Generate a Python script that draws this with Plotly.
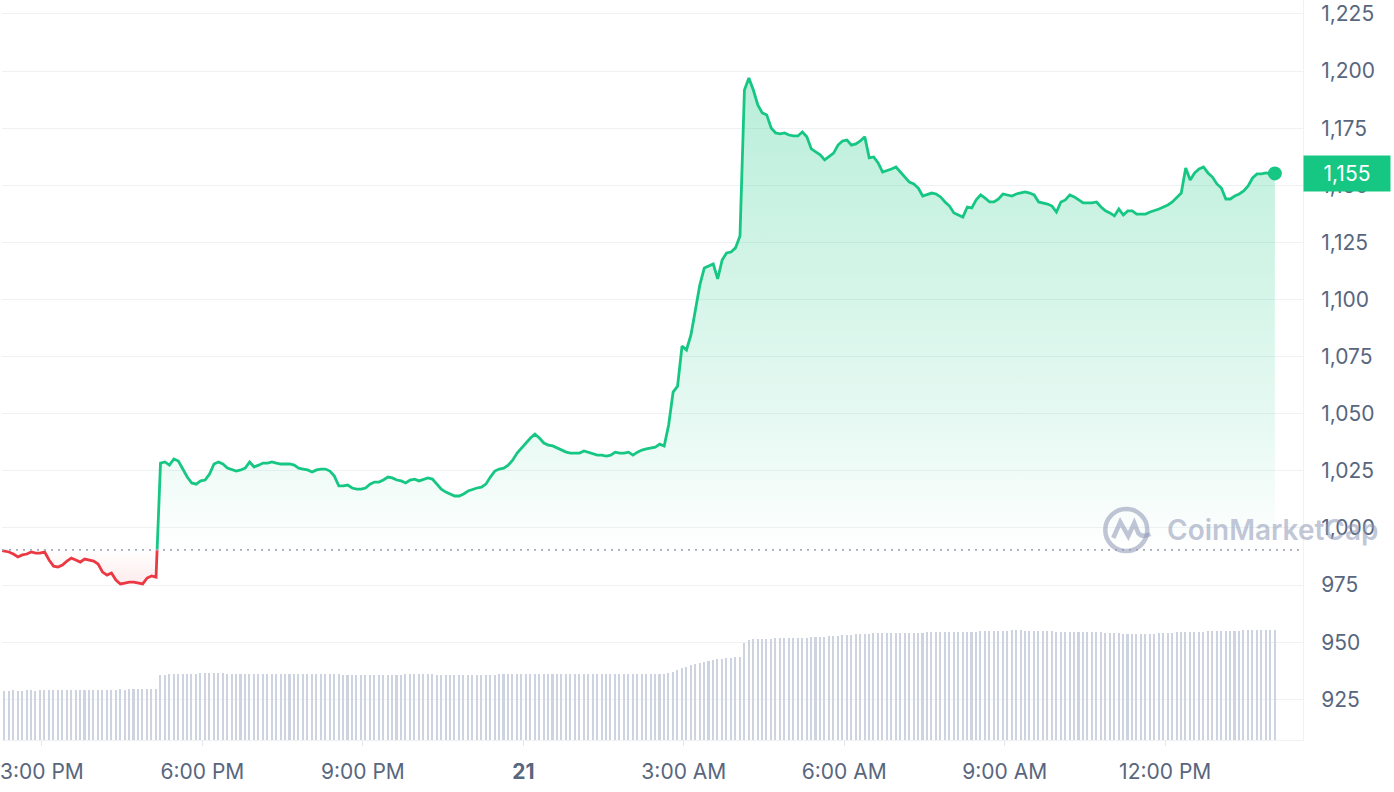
import pandas as pd
import plotly.graph_objects as go

# ---------------- data ----------------
start_time = "2024-05-20 14:03"
interval = "5min"

price = [
    990.8, 990.6, 990.3, 990.1, 989.5, 988.6, 987.3, 988.2, 988.6, 989.5,
    989.0, 989.0, 989.5, 986.0, 983.3, 982.9, 983.8, 985.5, 986.8, 986.0,
    985.1, 986.4, 986.0, 985.5, 984.2, 980.7, 979.4, 980.3, 977.2, 975.5,
    975.9, 976.3, 976.3, 975.9, 975.5, 978.1, 979.0, 978.5, 1028.4, 1028.9,
    1027.5, 1030.2, 1029.3, 1025.8, 1022.3, 1019.7, 1019.2, 1020.6, 1021.0, 1023.6,
    1028.0, 1028.9, 1028.0, 1026.2, 1025.4, 1024.9, 1025.4, 1026.2, 1028.9, 1026.7,
    1027.5, 1028.4, 1028.4, 1028.9, 1028.4, 1028.0, 1028.0, 1028.0, 1027.5, 1026.2,
    1025.8, 1025.4, 1024.5, 1025.4, 1025.8, 1025.8, 1024.9, 1022.7, 1018.4, 1018.4,
    1018.8, 1017.5, 1017.0, 1017.0, 1017.5, 1019.2, 1020.1, 1020.1, 1021.0, 1022.3,
    1021.9, 1021.0, 1020.6, 1019.7, 1021.0, 1021.4, 1020.6, 1021.4, 1021.9, 1021.4,
    1019.2, 1017.0, 1015.7, 1014.9, 1014.0, 1014.0, 1014.9, 1016.2, 1017.0, 1017.5,
    1017.9, 1019.2, 1022.3, 1024.9, 1025.8, 1026.2, 1027.5, 1029.7, 1032.8, 1035.0,
    1037.2, 1039.4, 1041.1, 1039.4, 1037.2, 1036.3, 1035.9, 1035.0, 1034.1, 1033.2,
    1032.8, 1032.8, 1032.8, 1033.7, 1033.2, 1032.4, 1031.9, 1031.9, 1031.5, 1031.9,
    1033.2, 1032.8, 1032.8, 1033.2, 1031.9, 1033.2, 1034.1, 1034.6, 1035.0, 1035.4,
    1036.7, 1035.9, 1045.1, 1059.5, 1062.1, 1079.6, 1077.9, 1084.5, 1095.4, 1106.4,
    1113.8, 1114.7, 1115.6, 1109.0, 1117.3, 1120.4, 1120.8, 1122.6, 1127.8, 1191.7,
    1197.0, 1191.7, 1185.2, 1181.7, 1180.8, 1175.1, 1172.9, 1172.5, 1172.9, 1172.0,
    1171.6, 1171.6, 1173.3, 1171.2, 1165.9, 1164.6, 1163.3, 1161.1, 1162.8, 1164.1,
    1167.6, 1169.4, 1169.8, 1167.6, 1168.1, 1169.4, 1171.2, 1162.0, 1162.4, 1159.8,
    1155.8, 1156.3, 1157.1, 1158.0, 1155.8, 1153.2, 1151.4, 1150.6, 1148.8, 1145.3,
    1145.8, 1146.6, 1146.2, 1144.9, 1142.7, 1140.9, 1137.9, 1137.0, 1136.1, 1140.5,
    1140.1, 1143.6, 1145.8, 1144.4, 1142.7, 1142.7, 1144.0, 1146.2, 1145.8, 1145.3,
    1146.2, 1146.6, 1147.1, 1146.6, 1145.8, 1142.7, 1142.3, 1141.8, 1140.9, 1138.3,
    1142.7, 1143.6, 1145.8, 1144.9, 1143.6, 1142.3, 1142.3, 1142.3, 1142.7, 1140.5,
    1138.8, 1137.9, 1136.6, 1139.6, 1137.0, 1138.8, 1138.8, 1137.4, 1137.4, 1137.4,
    1138.3, 1138.8, 1139.6, 1140.5, 1141.4, 1142.7, 1144.9, 1146.6, 1157.6, 1152.3,
    1155.4, 1157.1, 1158.0, 1155.4, 1153.6, 1150.6, 1148.8, 1144.0, 1144.0, 1145.3,
    1146.2, 1147.5, 1149.7, 1153.2, 1155.0, 1155.0, 1155.4, 1155.0, 1155.2,
]

# volume (millions)
volume = [
    99, 99, 100, 99, 99, 100, 99, 99, 100, 100, 99, 100, 100, 100, 100, 100, 100, 101, 100, 100,
    101, 101, 100, 101, 101, 101, 101, 101, 101, 102, 101, 102, 102, 102, 102, 102, 103, 103,
    131, 131, 132, 132, 132, 132, 133, 133,
    133, 134, 134, 134, 134, 134, 134, 133, 133, 133, 133, 133, 133, 133, 133,
    133, 133, 133, 133, 133, 132, 132, 133, 133, 133, 132, 132, 132, 132, 132, 132, 132, 132, 131, 131,
    131, 131, 131, 131, 131, 131, 131, 131, 131, 131, 131, 131, 132, 132, 132, 132, 132, 132, 132, 131,
    131, 131, 131, 131, 131, 131, 131, 131, 131, 131, 131, 131, 131, 132, 132, 132, 132, 132, 132, 132,
    133, 133, 133, 133, 132, 132, 132, 132, 132, 132, 132, 132, 132, 132, 132, 132, 132, 132, 132, 132,
    132, 132, 132, 132, 132, 132, 132, 132, 132, 133,
    133, 134, 136, 140, 144, 147, 150, 152, 155, 157, 159, 160, 162, 163, 164, 165, 166, 167,
    194, 200, 202, 202, 203, 203, 203, 204, 204, 204, 204, 204,
    204, 205, 205, 206, 206, 207, 207, 208, 209, 209, 210, 211, 211, 212, 212, 213, 213, 214, 214, 214,
    214, 214, 214, 215, 215, 215, 215, 215, 215, 216, 216, 216, 216, 216, 216, 216, 216, 217, 217, 217,
    217, 218, 218, 218, 219, 219, 219, 219, 220, 220, 220, 219, 219, 219, 218, 218, 218, 218, 217, 217,
    217, 217, 217, 217, 217, 217, 216, 216, 216, 215, 215, 214, 214, 213, 213, 213, 212, 212, 212, 213,
    213, 214, 214, 215, 215, 216, 216, 217, 217, 217, 217, 217, 218, 218, 218, 218, 219, 219, 219, 219,
    220, 220, 220, 220, 221, 221, 221, 221,
]

open_price = 990.4
current_label = "1,155"

x_tickvals = ["2024-05-20 15:00", "2024-05-20 18:00", "2024-05-20 21:00", "2024-05-21 00:00",
              "2024-05-21 03:00", "2024-05-21 06:00", "2024-05-21 09:00", "2024-05-21 12:00"]
x_ticktext = ["3:00 PM", "6:00 PM", "9:00 PM", "<b>21</b>", "3:00 AM", "6:00 AM", "9:00 AM", "12:00 PM"]
y_tickvals = [925, 950, 975, 1000, 1025, 1050, 1075, 1100, 1125, 1150, 1175, 1200, 1225]

# ---------------- styling ----------------
GREEN = "#16c784"
RED = "#ea3943"
GRID = "#eff2f5"
TEXT = "#58667e"
FONT = "Inter, 'Noto Sans', sans-serif"

times = list(pd.date_range(start_time, periods=len(price), freq=interval))

# split the series into runs above / below the opening price
segments = []
cur_x, cur_y = [times[0]], [price[0]]
cur_up = price[0] >= open_price
for k in range(1, len(price)):
    up = price[k] >= open_price
    if up != cur_up:
        f = (open_price - price[k - 1]) / (price[k] - price[k - 1])
        tc = times[k - 1] + (times[k] - times[k - 1]) * f
        cur_x.append(tc)
        cur_y.append(open_price)
        segments.append((cur_up, cur_x, cur_y))
        cur_x, cur_y, cur_up = [tc], [open_price], up
    cur_x.append(times[k])
    cur_y.append(price[k])
segments.append((cur_up, cur_x, cur_y))

fig = go.Figure()

# volume bars on hidden overlay axis
fig.add_trace(go.Bar(
    x=times, y=volume, yaxis="y2",
    marker=dict(color="#cdd3df", line=dict(width=0)),
    width=105000, hoverinfo="skip", showlegend=False,
))

pmax, pmin = max(price), min(price)
for up, sx, sy in segments:
    if up:
        grad = dict(type="vertical", start=open_price, stop=pmax,
                    colorscale=[[0, "rgba(22,199,132,0.0)"], [0.25, "rgba(22,199,132,0.10)"],
                                [1, "rgba(22,199,132,0.30)"]])
    else:
        grad = dict(type="vertical", start=open_price, stop=pmin,
                    colorscale=[[0, "rgba(234,57,67,0.0)"], [1, "rgba(234,57,67,0.10)"]])
    fig.add_trace(go.Scatter(
        x=list(sx) + list(sx)[::-1], y=list(sy) + [open_price] * len(sy),
        mode="lines", line=dict(width=0), fill="toself", fillgradient=grad,
        hoverinfo="skip", showlegend=False,
    ))

for up, sx, sy in segments:
    fig.add_trace(go.Scatter(
        x=sx, y=sy, mode="lines",
        line=dict(color=GREEN if up else RED, width=2.8, shape="linear"),
        showlegend=False,
    ))

fig.add_trace(go.Scatter(
    x=[times[-1]], y=[price[-1]], mode="markers",
    marker=dict(color=GREEN, size=14), showlegend=False,
))

# opening price dotted reference line
fig.add_shape(type="line", xref="paper", x0=0, x1=1, yref="y", y0=open_price, y1=open_price,
              line=dict(color="#a3acbd", width=1.6, dash="2px,5px"))

# current price tag
fig.add_annotation(
    xref="paper", x=1, yref="y", y=price[-1], xanchor="left", yanchor="middle",
    text=current_label, showarrow=False, bgcolor=GREEN, borderpad=3, width=80, height=29,
    align="center", font=dict(family=FONT, size=21, color="white"),
)

# watermark
WM = "rgba(140,150,180,0.55)"
fig.add_annotation(
    xref="paper", x=1165 / 1303, yref="paper", y=1 - 530 / 740, xanchor="left", yanchor="middle",
    text="CoinMarketCap", showarrow=False,
    font=dict(family=FONT, size=28, color=WM, weight=600),
)
fig.add_shape(type="circle", xref="paper", yref="paper", xsizemode="pixel", ysizemode="pixel",
              xanchor=1126 / 1303, yanchor=1 - 530 / 740, x0=-21, x1=21, y0=-21, y1=21,
              line=dict(color=WM, width=4.5))
fig.add_shape(type="path", xref="paper", yref="paper", xsizemode="pixel", ysizemode="pixel",
              xanchor=1126 / 1303, yanchor=1 - 530 / 740,
              path="M -13,-8 L -6,8 L 2,-6 L 8,7 L 12,-3 Q 16,-8 24,-4",
              line=dict(color=WM, width=4.5))

fig.update_layout(
    width=1394, height=792,
    margin=dict(l=0, r=91, t=0, b=52, pad=0),
    paper_bgcolor="white", plot_bgcolor="white",
    font=dict(family=FONT, color=TEXT, size=21),
    bargap=0,
    xaxis=dict(
        type="date", range=["2024-05-20 14:15:12", "2024-05-21 14:34:34"],
        tickvals=x_tickvals, ticktext=x_ticktext,
        showgrid=False, zeroline=False,
        showline=True, linecolor=GRID, linewidth=1,
        ticks="outside", ticklen=5, tickcolor="#e3e7ee",
        ticklabelstandoff=8, ticklabeloverflow="allow",
        tickfont=dict(family=FONT, size=21, color=TEXT),
    ),
    yaxis=dict(
        side="right", range=[907.2, 1231.1],
        tickvals=y_tickvals, tickformat=",",
        showgrid=True, gridcolor=GRID, gridwidth=1,
        zeroline=False, showline=True, linecolor=GRID, linewidth=1,
        ticks="", ticklabelstandoff=13, ticklabeloverflow="allow",
        tickfont=dict(family=FONT, size=21, color=TEXT),
    ),
    yaxis2=dict(overlaying="y", range=[0, 1480], visible=False),
    hovermode=False,
)

fig.write_html(
    "out.html",
    config={"displayModeBar": False},
    post_script="document.body.style.margin='0px';document.body.style.overflow='hidden';",
)
